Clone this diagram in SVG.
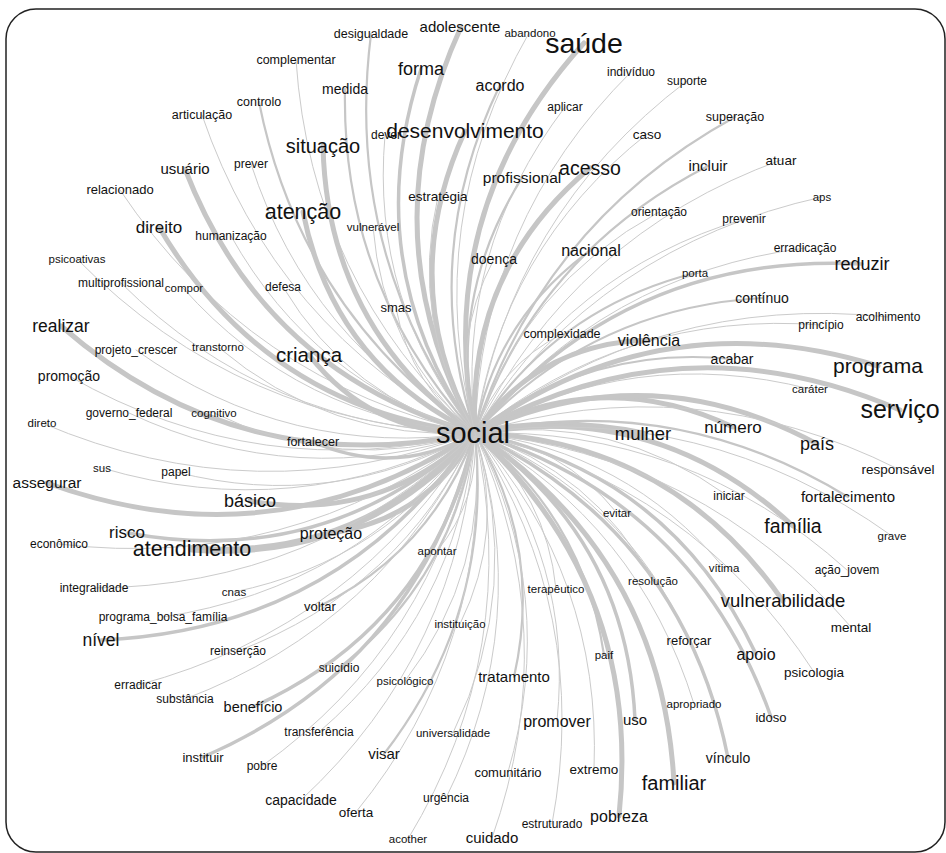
<svg xmlns="http://www.w3.org/2000/svg" width="946" height="853" viewBox="0 0 946 853">
<style>
.e{fill:none;stroke:#c6c6c6;stroke-linecap:round}
.w1{stroke-width:1;stroke:#cbcbcb}
.w2{stroke-width:2.2}
.w3{stroke-width:3.5}
.w4{stroke-width:5}
.w5{stroke-width:7}
text{font-family:"Liberation Sans",Arial,sans-serif;fill:#111111;text-anchor:middle}
</style>
<rect x="0" y="0" width="946" height="853" fill="#ffffff"/>
<rect x="6" y="9" width="939" height="843" rx="30" ry="30" fill="#ffffff" stroke="#222" stroke-width="1.5"/>
<g id="connectors">
<path class="e w4" d="M475 433Q432 211 584 43"/>
<path class="e w4" d="M475 433Q366.5 233.5 461 27"/>
<path class="e w1" d="M475 433Q420.5 222.8 529 33"/>
<path class="e w2" d="M475 433Q343.2 254.3 371 34"/>
<path class="e w1" d="M475 433Q310.9 282.3 296 60"/>
<path class="e w3" d="M475 433Q357 264.5 421 69"/>
<path class="e w1" d="M475 433Q480.8 221.3 631 72"/>
<path class="e w1" d="M475 433Q510.6 214.6 687 81"/>
<path class="e w2" d="M475 433Q341.2 287 345 89"/>
<path class="e w2" d="M475 433Q417.9 254 500 85"/>
<path class="e w1" d="M475 433Q274.9 328.6 202 115"/>
<path class="e w2" d="M475 433Q300.8 310.7 259 102"/>
<path class="e w1" d="M475 433Q454.8 252 565 107"/>
<path class="e w2" d="M475 433Q541.8 223 735 117"/>
<path class="e w4" d="M475 433Q394.5 284.5 465 131"/>
<path class="e w1" d="M475 433Q370.4 302 385 135"/>
<path class="e w1" d="M475 433Q501.2 249.1 647 134"/>
<path class="e w4" d="M475 433Q327.3 327.5 323 146"/>
<path class="e w4" d="M475 433Q264 373.5 185 169"/>
<path class="e w1" d="M475 433Q309.2 343.3 251 164"/>
<path class="e w2" d="M475 433Q538.1 252.9 708 166"/>
<path class="e w1" d="M475 433Q573.4 235.3 781 160"/>
<path class="e w4" d="M475 433Q466.3 271.8 590 168"/>
<path class="e w2" d="M475 433Q447.5 296.1 522 178"/>
<path class="e w1" d="M475 433Q248.9 382.5 120 190"/>
<path class="e w1" d="M475 433Q409.1 321.9 438 196"/>
<path class="e w1" d="M475 433Q601.3 245.6 822 197"/>
<path class="e w1" d="M475 433Q522.8 285.7 659 212"/>
<path class="e w1" d="M475 433Q566.7 272.2 744 219"/>
<path class="e w4" d="M475 433Q333.8 365.5 303 212"/>
<path class="e w4" d="M475 433Q265.5 409 159 227"/>
<path class="e w1" d="M475 433Q313.6 383.3 231 236"/>
<path class="e w1" d="M475 433Q382.8 350.4 373 227"/>
<path class="e w1" d="M475 433Q603 274.5 805 248"/>
<path class="e w2" d="M475 433Q496.4 318.3 591 250"/>
<path class="e w1" d="M475 433Q449.7 342.2 494 259"/>
<path class="e w3" d="M475 433Q626.3 251.8 862 264"/>
<path class="e w1" d="M475 433Q241.2 425.6 77 259"/>
<path class="e w2" d="M475 433Q553 309 695 273"/>
<path class="e w1" d="M475 433Q268 428.8 121 283"/>
<path class="e w1" d="M475 433Q300 418.9 183 288"/>
<path class="e w1" d="M475 433Q349.8 398.4 283 287"/>
<path class="e w2" d="M475 433Q591.5 308.1 762 298"/>
<path class="e w1" d="M475 433Q410.5 386.3 396 308"/>
<path class="e w1" d="M475 433Q658.3 292.4 888 317"/>
<path class="e w1" d="M475 433Q626.4 309.8 821 325"/>
<path class="e w4" d="M475 433Q241.3 483 61 326"/>
<path class="e w1" d="M475 433Q498.7 366.1 562 334"/>
<path class="e w4" d="M475 433Q538.8 343 649 340"/>
<path class="e w1" d="M475 433Q288.9 459.3 136 350"/>
<path class="e w1" d="M475 433Q329.3 441.4 218 347"/>
<path class="e w4" d="M475 433Q372.5 435.5 309 355"/>
<path class="e w2" d="M475 433Q588.7 344.6 732 359"/>
<path class="e w4" d="M475 433Q659.8 298.8 878 366"/>
<path class="e w1" d="M475 433Q260.6 485.7 69 376"/>
<path class="e w1" d="M475 433Q633.7 344 810 389"/>
<path class="e w4" d="M475 433Q681.8 315.3 900 410"/>
<path class="e w1" d="M475 433Q298 492.2 129 413"/>
<path class="e w1" d="M475 433Q340.5 475.2 214 413"/>
<path class="e w1" d="M475 433Q256.5 514.6 42 423"/>
<path class="e w4" d="M475 433Q602.5 365.5 733 427"/>
<path class="e w5" d="M475 433Q559 416.7 643 434"/>
<path class="e w3" d="M475 433Q396.3 478 313 442"/>
<path class="e w4" d="M475 433Q648.8 353 817 444"/>
<path class="e w1" d="M475 433Q295.5 525.1 102 468"/>
<path class="e w1" d="M475 433Q333.3 512.3 176 472"/>
<path class="e w1" d="M475 433Q693.7 366.4 898 469"/>
<path class="e w4" d="M475 433Q273.5 565 47 483"/>
<path class="e w1" d="M475 433Q614.1 413.9 728 496"/>
<path class="e w2" d="M475 433Q674.3 390.4 848 497"/>
<path class="e w4" d="M475 433Q379.5 523.3 250 501"/>
<path class="e w1" d="M475 433Q562 444.6 617 513"/>
<path class="e w4" d="M475 433Q657.3 400 793 526"/>
<path class="e w3" d="M475 433Q326.5 569.8 128 533"/>
<path class="e w1" d="M475 433Q704.1 401.1 892 536"/>
<path class="e w4" d="M475 433Q428 519 331 533"/>
<path class="e w1" d="M475 433Q289.2 571.7 59 544"/>
<path class="e w5" d="M475 433Q362.5 561.8 192 549"/>
<path class="e w1" d="M475 433Q479.6 499.6 437 551"/>
<path class="e w1" d="M475 433Q626.5 450.7 724 568"/>
<path class="e w1" d="M475 433Q688.4 427.1 847 570"/>
<path class="e w1" d="M475 433Q593.6 471.4 653 581"/>
<path class="e w1" d="M475 433Q546.7 494.8 556 589"/>
<path class="e w1" d="M475 433Q315.5 586.7 94 588"/>
<path class="e w1" d="M475 433Q386.3 560.7 234 592"/>
<path class="e w4" d="M475 433Q671 440 783 601"/>
<path class="e w2" d="M475 433Q432.1 550.5 320 606"/>
<path class="e w1" d="M475 433Q355.8 587.4 163 617"/>
<path class="e w1" d="M475 433Q701.8 454.8 851 627"/>
<path class="e w1" d="M475 433Q505.7 531.5 460 624"/>
<path class="e w3" d="M475 433Q339.8 630 101 640"/>
<path class="e w1" d="M475 433Q623.4 493.7 689 640"/>
<path class="e w1" d="M475 433Q400.1 589.4 238 651"/>
<path class="e w3" d="M475 433Q670.8 473.3 756 654"/>
<path class="e w2" d="M475 433Q583.9 518.2 604 655"/>
<path class="e w2" d="M475 433Q454 577.7 339 668"/>
<path class="e w1" d="M475 433Q692.3 484.7 814 672"/>
<path class="e w2" d="M475 433Q543.3 547.2 514 677"/>
<path class="e w1" d="M475 433Q489.6 571 405 681"/>
<path class="e w1" d="M475 433Q356.9 626.4 138 685"/>
<path class="e w1" d="M475 433Q383.2 624 185 699"/>
<path class="e w3" d="M475 433Q432.5 625.5 253 707"/>
<path class="e w1" d="M475 433Q638.7 524.7 694 704"/>
<path class="e w1" d="M475 433Q573.6 560.6 557 721"/>
<path class="e w3" d="M475 433Q626.8 536.5 635 720"/>
<path class="e w3" d="M475 433Q694 501 771 717"/>
<path class="e w1" d="M475 433Q456.8 613.7 319 732"/>
<path class="e w1" d="M475 433Q524 587.4 453 733"/>
<path class="e w2" d="M475 433Q493.7 611.7 384 754"/>
<path class="e w3" d="M475 433Q682.8 532.3 728 758"/>
<path class="e w3" d="M475 433Q420 663 203 757"/>
<path class="e w1" d="M475 433Q435.1 642.1 262 766"/>
<path class="e w1" d="M475 433Q559.3 595.9 508 772"/>
<path class="e w1" d="M475 433Q601.7 577.2 594 769"/>
<path class="e w4" d="M475 433Q662 558.3 674 783"/>
<path class="e w1" d="M475 433Q461.4 651.3 301 800"/>
<path class="e w1" d="M475 433Q533.5 621.3 446 798"/>
<path class="e w1" d="M475 433Q491.3 646.3 356 812"/>
<path class="e w1" d="M475 433Q591.7 613.1 552 824"/>
<path class="e w4" d="M475 433Q642.8 588.5 619 816"/>
<path class="e w1" d="M475 433Q522.7 649.4 408 839"/>
<path class="e w1" d="M475 433Q564.5 632.1 492 838"/>
</g>
<g id="n-abandono"><text x="530" y="37" font-size="11.5">abandono</text></g>
<g id="n-desigualdade"><text x="371" y="38" font-size="12.5">desigualdade</text></g>
<g id="n-complementar"><text x="296" y="64" font-size="12.5">complementar</text></g>
<g id="n-individuo"><text x="631" y="76" font-size="12">indivíduo</text></g>
<g id="n-suporte"><text x="687" y="85" font-size="12">suporte</text></g>
<g id="n-medida"><text x="345" y="94" font-size="14">medida</text></g>
<g id="n-articulacao"><text x="202" y="119" font-size="12.5">articulação</text></g>
<g id="n-controlo"><text x="259" y="106" font-size="12.5">controlo</text></g>
<g id="n-aplicar"><text x="565" y="111" font-size="12">aplicar</text></g>
<g id="n-superacao"><text x="735" y="121" font-size="12.5">superação</text></g>
<g id="n-dever"><text x="371" y="139" font-size="12" style="text-anchor:start">dever</text></g>
<g id="n-caso"><text x="647" y="139" font-size="13.5">caso</text></g>
<g id="n-prever"><text x="251" y="168" font-size="12">prever</text></g>
<g id="n-atuar"><text x="781" y="165" font-size="13.5">atuar</text></g>
<g id="n-relacionado"><text x="120" y="194" font-size="13">relacionado</text></g>
<g id="n-estrategia"><text x="438" y="201" font-size="13.5">estratégia</text></g>
<g id="n-aps"><text x="822" y="201" font-size="11.5">aps</text></g>
<g id="n-orientacao"><text x="659" y="216" font-size="12">orientação</text></g>
<g id="n-prevenir"><text x="744" y="223" font-size="12">prevenir</text></g>
<g id="n-humanizacao"><text x="231" y="240" font-size="12">humanização</text></g>
<g id="n-vulneravel"><text x="373" y="231" font-size="11.5">vulnerável</text></g>
<g id="n-erradicacao"><text x="805" y="252" font-size="12">erradicação</text></g>
<g id="n-doenca"><text x="494" y="264" font-size="14">doença</text></g>
<g id="n-psicoativas"><text x="77" y="263" font-size="11.5">psicoativas</text></g>
<g id="n-porta"><text x="695" y="277" font-size="11.5">porta</text></g>
<g id="n-multiprofissional"><text x="121" y="287" font-size="12">multiprofissional</text></g>
<g id="n-compor"><text x="184" y="292" font-size="11.5">compor</text></g>
<g id="n-defesa"><text x="283" y="291" font-size="12">defesa</text></g>
<g id="n-continuo"><text x="762" y="303" font-size="14">contínuo</text></g>
<g id="n-smas"><text x="396" y="312" font-size="13">smas</text></g>
<g id="n-acolhimento"><text x="888" y="321" font-size="12">acolhimento</text></g>
<g id="n-principio"><text x="821" y="329" font-size="12">princípio</text></g>
<g id="n-complexidade"><text x="562" y="338" font-size="12.5">complexidade</text></g>
<g id="n-projeto_crescer"><text x="136" y="354" font-size="12">projeto_crescer</text></g>
<g id="n-transtorno"><text x="218" y="351" font-size="11.5">transtorno</text></g>
<g id="n-acabar"><text x="732" y="364" font-size="14">acabar</text></g>
<g id="n-promocao"><text x="69" y="381" font-size="14">promoção</text></g>
<g id="n-carater"><text x="810" y="393" font-size="11.5">caráter</text></g>
<g id="n-governo_federal"><text x="129" y="417" font-size="12">governo_federal</text></g>
<g id="n-cognitivo"><text x="214" y="417" font-size="11.5">cognitivo</text></g>
<g id="n-direto"><text x="42" y="427" font-size="11.5">direto</text></g>
<g id="n-fortalecer"><text x="313" y="446" font-size="12.5">fortalecer</text></g>
<g id="n-sus"><text x="102" y="472" font-size="11.5">sus</text></g>
<g id="n-papel"><text x="176" y="476" font-size="12">papel</text></g>
<g id="n-responsavel"><text x="898" y="474" font-size="13.5">responsável</text></g>
<g id="n-iniciar"><text x="729" y="500" font-size="12">iniciar</text></g>
<g id="n-evitar"><text x="617" y="517" font-size="11.5">evitar</text></g>
<g id="n-grave"><text x="892" y="540" font-size="11.5">grave</text></g>
<g id="n-economico"><text x="59" y="548" font-size="12">econômico</text></g>
<g id="n-apontar"><text x="437" y="555" font-size="11.5">apontar</text></g>
<g id="n-vitima"><text x="724" y="572" font-size="11.5">vítima</text></g>
<g id="n-acao_jovem"><text x="847" y="574" font-size="12">ação_jovem</text></g>
<g id="n-resolucao"><text x="653" y="585" font-size="11.5">resolução</text></g>
<g id="n-terapeutico"><text x="556" y="593" font-size="11.5">terapêutico</text></g>
<g id="n-integralidade"><text x="94" y="592" font-size="12">integralidade</text></g>
<g id="n-cnas"><text x="234" y="596" font-size="11.5">cnas</text></g>
<g id="n-voltar"><text x="320" y="611" font-size="13">voltar</text></g>
<g id="n-programa_bolsa_familia"><text x="163" y="621" font-size="12">programa_bolsa_família</text></g>
<g id="n-mental"><text x="851" y="632" font-size="13.5">mental</text></g>
<g id="n-instituicao"><text x="460" y="628" font-size="11.5">instituição</text></g>
<g id="n-reforcar"><text x="689" y="645" font-size="13">reforçar</text></g>
<g id="n-reinsercao"><text x="238" y="655" font-size="12">reinserção</text></g>
<g id="n-paif"><text x="604" y="659" font-size="11.5">paif</text></g>
<g id="n-suicidio"><text x="339" y="672" font-size="12">suicídio</text></g>
<g id="n-psicologia"><text x="814" y="677" font-size="13.5">psicologia</text></g>
<g id="n-psicologico"><text x="405" y="685" font-size="11.5">psicológico</text></g>
<g id="n-erradicar"><text x="138" y="689" font-size="12">erradicar</text></g>
<g id="n-substancia"><text x="185" y="703" font-size="12">substância</text></g>
<g id="n-apropriado"><text x="694" y="708" font-size="11.5">apropriado</text></g>
<g id="n-idoso"><text x="771" y="722" font-size="13">idoso</text></g>
<g id="n-transferencia"><text x="319" y="736" font-size="12">transferência</text></g>
<g id="n-universalidade"><text x="453" y="737" font-size="11.5">universalidade</text></g>
<g id="n-instituir"><text x="203" y="762" font-size="13">instituir</text></g>
<g id="n-pobre"><text x="262" y="770" font-size="12">pobre</text></g>
<g id="n-comunitario"><text x="508" y="777" font-size="13">comunitário</text></g>
<g id="n-extremo"><text x="594" y="774" font-size="13.5">extremo</text></g>
<g id="n-urgencia"><text x="446" y="802" font-size="12">urgência</text></g>
<g id="n-estruturado"><text x="552" y="828" font-size="12">estruturado</text></g>
<g id="n-acother"><text x="408" y="843" font-size="11.5">acother</text></g>
<g id="n-capacidade"><text x="301" y="805" font-size="14">capacidade</text></g>
<g id="n-oferta"><text x="356" y="817" font-size="13.5">oferta</text></g>
<g id="n-adolescente"><text x="460" y="32" font-size="15">adolescente</text></g>
<g id="n-acordo"><text x="500" y="91" font-size="16">acordo</text></g>
<g id="n-usuario"><text x="185" y="174" font-size="15">usuário</text></g>
<g id="n-incluir"><text x="708" y="171" font-size="15">incluir</text></g>
<g id="n-profissional"><text x="522" y="183" font-size="15.5">profissional</text></g>
<g id="n-nacional"><text x="591" y="256" font-size="16">nacional</text></g>
<g id="n-violencia"><text x="649" y="346" font-size="16">violência</text></g>
<g id="n-assegurar"><text x="47" y="488" font-size="15.5">assegurar</text></g>
<g id="n-fortalecimento"><text x="848" y="502" font-size="15">fortalecimento</text></g>
<g id="n-protecao"><text x="331" y="539" font-size="16">proteção</text></g>
<g id="n-apoio"><text x="756" y="660" font-size="16">apoio</text></g>
<g id="n-tratamento"><text x="514" y="682" font-size="15">tratamento</text></g>
<g id="n-beneficio"><text x="253" y="712" font-size="14.5">benefício</text></g>
<g id="n-promover"><text x="557" y="727" font-size="16">promover</text></g>
<g id="n-uso"><text x="635" y="725" font-size="15">uso</text></g>
<g id="n-visar"><text x="384" y="759" font-size="15">visar</text></g>
<g id="n-vinculo"><text x="728" y="763" font-size="14">vínculo</text></g>
<g id="n-cuidado"><text x="492" y="843" font-size="15">cuidado</text></g>
<g id="n-pobreza"><text x="619" y="822" font-size="16">pobreza</text></g>
<g id="n-forma"><text x="421" y="75" font-size="18">forma</text></g>
<g id="n-direito"><text x="159" y="233" font-size="17">direito</text></g>
<g id="n-reduzir"><text x="862" y="270" font-size="18">reduzir</text></g>
<g id="n-realizar"><text x="61" y="332" font-size="17.5">realizar</text></g>
<g id="n-numero"><text x="733" y="433" font-size="17">número</text></g>
<g id="n-mulher"><text x="643" y="440" font-size="18.5">mulher</text></g>
<g id="n-pais"><text x="817" y="450" font-size="18">país</text></g>
<g id="n-basico"><text x="250" y="507" font-size="18">básico</text></g>
<g id="n-risco"><text x="127" y="538" font-size="17">risco</text></g>
<g id="n-familia"><text x="793" y="533" font-size="19.5">família</text></g>
<g id="n-vulnerabilidade"><text x="783" y="607" font-size="18.5">vulnerabilidade</text></g>
<g id="n-nivel"><text x="101" y="646" font-size="17.5">nível</text></g>
<g id="n-familiar"><text x="674" y="790" font-size="20">familiar</text></g>
<g id="n-acesso"><text x="590" y="175" font-size="19.5">acesso</text></g>
<g id="n-situacao"><text x="323" y="153" font-size="20">situação</text></g>
<g id="n-atencao"><text x="303" y="219" font-size="21.5">atenção</text></g>
<g id="n-crianca"><text x="309" y="362" font-size="20.5">criança</text></g>
<g id="n-desenvolvimento"><text x="465" y="138" font-size="21">desenvolvimento</text></g>
<g id="n-programa"><text x="878" y="373" font-size="21">programa</text></g>
<g id="n-atendimento"><text x="192" y="556" font-size="21.5">atendimento</text></g>
<g id="n-servico"><text x="900" y="418" font-size="25">serviço</text></g>
<g id="n-saude"><text x="584" y="53" font-size="28.5">saúde</text></g>
<g id="n-social"><text x="473" y="443" font-size="29">social</text></g>
</svg>
